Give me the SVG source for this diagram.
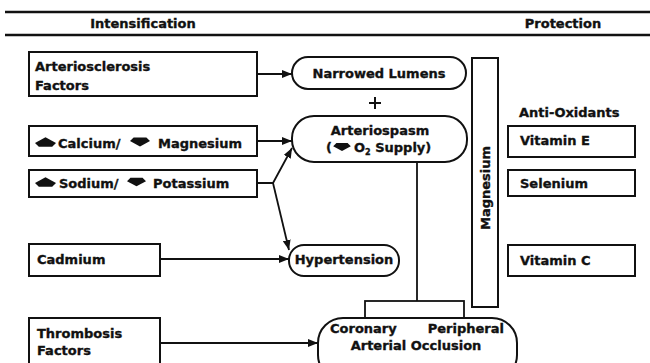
<svg xmlns="http://www.w3.org/2000/svg" width="650" height="363" viewBox="0 0 650 363">
<defs>
<style>
text{font-family:"DejaVu Sans","Liberation Sans",sans-serif;font-weight:bold;font-size:13px;fill:#111;stroke:#111;stroke-width:0.35}
.box{fill:#fff;stroke:#111;stroke-width:2}
.ln{fill:none;stroke:#111;stroke-width:1.8}
.sym{fill:#111}
</style>
<marker id="ah" viewBox="0 0 10 8" refX="10" refY="4" markerWidth="10" markerHeight="8" markerUnits="userSpaceOnUse" orient="auto">
<path d="M0,0 L10,4 L0,8 z" fill="#111"/>
</marker>
<symbol id="up" viewBox="0 0 22 10" overflow="visible"><path d="M0,6 L11,0 L22,6 L18,10 L4,10 z"/></symbol>
<symbol id="dn" viewBox="0 0 22 10" overflow="visible"><path d="M0,4 L11,10 L22,4 L18,0 L4,0 z"/></symbol>
</defs>
<rect width="650" height="363" fill="#fff"/>
<g id="header">
<line x1="5" y1="12" x2="650" y2="12" stroke="#111" stroke-width="2.5"/>
<line x1="5" y1="35" x2="650" y2="35" stroke="#111" stroke-width="2.5"/>
<text x="143" y="28" text-anchor="middle">Intensification</text>
<text x="563" y="28" text-anchor="middle">Protection</text>
</g>
<g id="connectors">
<line class="ln" x1="257" y1="74" x2="292" y2="74" marker-end="url(#ah)"/>
<line class="ln" x1="257" y1="141" x2="292" y2="141" marker-end="url(#ah)"/>
<polyline class="ln" points="257,183 273,183 292,148" marker-end="url(#ah)"/>
<line class="ln" x1="273" y1="183" x2="289" y2="250" marker-end="url(#ah)"/>
<line class="ln" x1="160" y1="259" x2="289" y2="259" marker-end="url(#ah)"/>
<line class="ln" x1="160" y1="343" x2="318" y2="343" marker-end="url(#ah)"/>
<line class="ln" x1="417" y1="162" x2="417" y2="301"/>
<rect class="ln" x="365" y="301" width="99" height="17"/>
</g>
<g id="arteriosclerosis">
<rect class="box" x="29" y="52" width="228" height="44"/>
<text x="35" y="71">Arteriosclerosis</text>
<text x="35" y="90">Factors</text>
</g>
<g id="calcium">
<rect class="box" x="29" y="126" width="228" height="30"/>
<use href="#up" class="sym" x="35" y="137" width="21" height="10"/>
<text x="58" y="148">Calcium/</text>
<use href="#dn" class="sym" x="130" y="137" width="20" height="10"/>
<text x="158" y="148">Magnesium</text>
</g>
<g id="sodium">
<rect class="box" x="29" y="170" width="228" height="27"/>
<use href="#up" class="sym" x="35" y="177" width="21" height="10"/>
<text x="59" y="188">Sodium/</text>
<use href="#dn" class="sym" x="127" y="177" width="19" height="10"/>
<text x="153" y="188">Potassium</text>
</g>
<g id="cadmium">
<rect class="box" x="29" y="244" width="131" height="32"/>
<text x="37" y="264">Cadmium</text>
</g>
<g id="thrombosis">
<rect class="box" x="29" y="318" width="131" height="60"/>
<text x="37" y="338">Thrombosis</text>
<text x="37" y="355">Factors</text>
</g>
<g id="narrowed">
<rect class="box" x="292" y="57" width="174" height="32" rx="16"/>
<text x="379" y="78" text-anchor="middle">Narrowed Lumens</text>
</g>
<g id="plus">
<line x1="375" y1="97" x2="375" y2="109" stroke="#111" stroke-width="2"/>
<line x1="369" y1="103" x2="381" y2="103" stroke="#111" stroke-width="2"/>
</g>
<g id="arteriospasm">
<rect class="box" x="292" y="116" width="175" height="46" rx="22"/>
<text x="380" y="135" text-anchor="middle">Arteriospasm</text>
<text x="326" y="152">(</text>
<use href="#dn" class="sym" x="333" y="143" width="18" height="8"/>
<text x="354" y="152">O<tspan font-size="8" dy="3">2</tspan><tspan dy="-3"> Supply)</tspan></text>
</g>
<g id="hypertension">
<rect class="box" x="289" y="245" width="110" height="31" rx="15"/>
<text x="344" y="264" text-anchor="middle">Hypertension</text>
</g>
<g id="occlusion">
<rect class="box" x="318" y="318" width="199" height="62" rx="25"/>
<text x="330" y="333">Coronary</text>
<text x="504" y="333" text-anchor="end">Peripheral</text>
<text x="416" y="350" text-anchor="middle">Arterial Occlusion</text>
</g>
<g id="magnesium">
<rect class="box" x="472" y="58" width="26" height="249"/>
<text transform="translate(490,188) rotate(-90)" text-anchor="middle">Magnesium</text>
</g>
<g id="antioxidants">
<text x="519" y="117">Anti-Oxidants</text>
</g>
<g id="vitaminE">
<rect class="box" x="508" y="126" width="127" height="31"/>
<text x="520" y="145">Vitamin E</text>
</g>
<g id="selenium">
<rect class="box" x="508" y="170" width="127" height="26"/>
<text x="520" y="188">Selenium</text>
</g>
<g id="vitaminC">
<rect class="box" x="508" y="245" width="127" height="31"/>
<text x="520" y="265">Vitamin C</text>
</g>
</svg>
